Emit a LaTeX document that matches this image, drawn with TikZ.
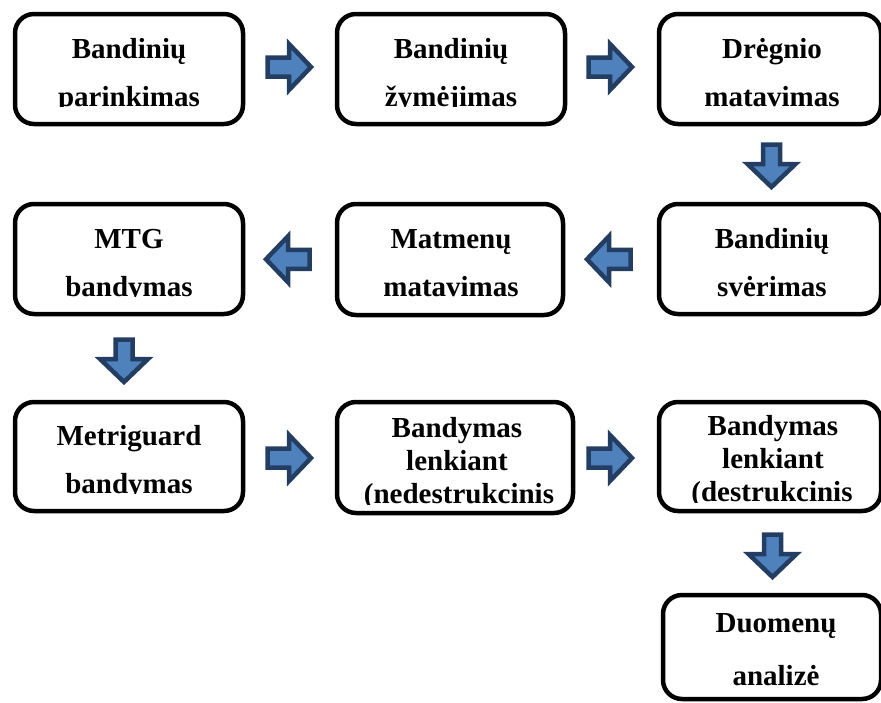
\documentclass[tikz,border=0pt]{standalone}
\usepackage{fontspec}
\setmainfont{Liberation Serif}
\usetikzlibrary{calc}
\definecolor{arrfill}{HTML}{4F81BD}
\definecolor{arrline}{HTML}{233E62}
\tikzset{
  stepbox/.style={draw=black, line width=4.5pt, rounded corners=19pt, rectangle, inner sep=0pt, fill=white},
  lbl/.style={anchor=base, inner sep=0pt, font=\bfseries\fontsize{29}{34}\selectfont},
  arrowshape/.style={fill=arrfill, draw=arrline, line width=4.5pt, line join=miter},
  rarrow/.pic={\path[arrowshape] (-22.5,-9.5) -- (-1,-9.5) -- (-1,-23) -- (21,0) -- (-1,23) -- (-1,9.5) -- (-22.5,9.5) -- cycle;},
  larrow/.pic={\path[arrowshape] (22.5,-9.5) -- (1,-9.5) -- (1,-23) -- (-21,0) -- (1,23) -- (1,9.5) -- (22.5,9.5) -- cycle;},
  darrow/.pic={\path[arrowshape] (-8.5,-21.5) -- (-8.5,-2) -- (-24,-2) -- (0,21) -- (24,-2) -- (8.5,-2) -- (8.5,-21.5) -- cycle;}
}
\begin{document}
\begin{tikzpicture}[x=1pt,y=-1pt]
\useasboundingbox (0,0) rectangle (881,702);
\clip (0,0) rectangle (881,702);
% boxes
\node (b1) [stepbox, minimum width=228pt, minimum height=110pt] at (129,69) {};
\node (b2) [stepbox, minimum width=228pt, minimum height=110pt] at (451,69) {};
\node (b3) [stepbox, minimum width=222pt, minimum height=110pt] at (770,69) {};
\node (b4) [stepbox, minimum width=228pt, minimum height=110pt] at (129,259) {};
\node (b5) [stepbox, minimum width=226pt, minimum height=111pt] at (450,259.5) {};
\node (b6) [stepbox, minimum width=222pt, minimum height=110pt] at (770,259) {};
\node (b7) [stepbox, minimum width=228pt, minimum height=109pt] at (129,456.5) {};
\node (b8) [stepbox, minimum width=236pt, minimum height=111pt] at (455,457.5) {};
\node (b9) [stepbox, minimum width=222pt, minimum height=109pt] at (770,456.5) {};
\node (b10) [stepbox, minimum width=218pt, minimum height=104pt] at (772,647) {};
% texts (clipped like the reference)
\begin{scope}
  \clip (13,12) rectangle (245,106);
  \node (t1a) [lbl] at (129,58) {Bandinių};
  \node (t1b) [lbl] at (129,106.5) {parinkimas};
\end{scope}
\begin{scope}
  \clip (335,12) rectangle (567,106);
  \node (t2a) [lbl] at (451,58) {Bandinių};
  \node (t2b) [lbl] at (451,106.5) {žymėjimas};
\end{scope}
\begin{scope}
  \clip (657,12) rectangle (883,106);
  \node (t3a) [lbl] at (772,58) {Drėgnio};
  \node (t3b) [lbl] at (772,106.5) {matavimas};
\end{scope}
\begin{scope}
  \clip (13,202) rectangle (245,296);
  \node (t4a) [lbl] at (129,248) {MTG};
  \node (t4b) [lbl] at (129,296.5) {bandymas};
\end{scope}
\begin{scope}
  \clip (335,202) rectangle (565,296);
  \node (t5a) [lbl] at (451,248) {Matmenų};
  \node (t5b) [lbl] at (451,296.5) {matavimas};
\end{scope}
\begin{scope}
  \clip (657,202) rectangle (883,296);
  \node (t6a) [lbl] at (772,248) {Bandinių};
  \node (t6b) [lbl] at (772,296.5) {svėrimas};
\end{scope}
\begin{scope}
  \clip (13,400) rectangle (245,493);
  \node (t7a) [lbl] at (129,445) {Metriguard};
  \node (t7b) [lbl] at (129,493.5) {bandymas};
\end{scope}
\begin{scope}
  \clip (335,400) rectangle (575,504);
  \node (t8a) [lbl] at (457,437) {Bandymas};
  \node (t8b) [lbl] at (457,470) {lenkiant};
  \node (t8c) [lbl] at (459,503) {(nedestrukcinis};
\end{scope}
\begin{scope}
  \clip (657,400) rectangle (883,502);
  \node (t9a) [lbl] at (773,435) {Bandymas};
  \node (t9b) [lbl] at (773,468) {lenkiant};
  \node (t9c) [lbl] at (772,501) {(destrukcinis};
\end{scope}
\node (t10a) [lbl] at (776,632) {Duomenų};
\node (t10b) [lbl] at (776,685) {analizė};
% block arrows between the boxes
\pic at ($(b1.east)!0.5!(b2.west)+(0,-2)$) {rarrow};
\pic at ($(b2.east)!0.5!(b3.west)+(-1,-2)$) {rarrow};
\pic at ($(b3.south)!0.5!(b6.north)+(1.5,2)$) {darrow};
\pic at ($(b6.west)!0.5!(b5.east)+(-3,0)$) {larrow};
\pic at ($(b5.west)!0.5!(b4.east)+(-3,0)$) {larrow};
\pic at ($(b4.south)!0.5!(b7.north)+(-5,3)$) {darrow};
\pic at ($(b7.east)!0.5!(b8.west)+(0,1)$) {rarrow};
\pic at ($(b8.east)!0.5!(b9.west)+(-5,1)$) {rarrow};
\pic at ($(b9.south)!0.5!(b10.north)+(1.5,3)$) {darrow};
\end{tikzpicture}
\end{document}
